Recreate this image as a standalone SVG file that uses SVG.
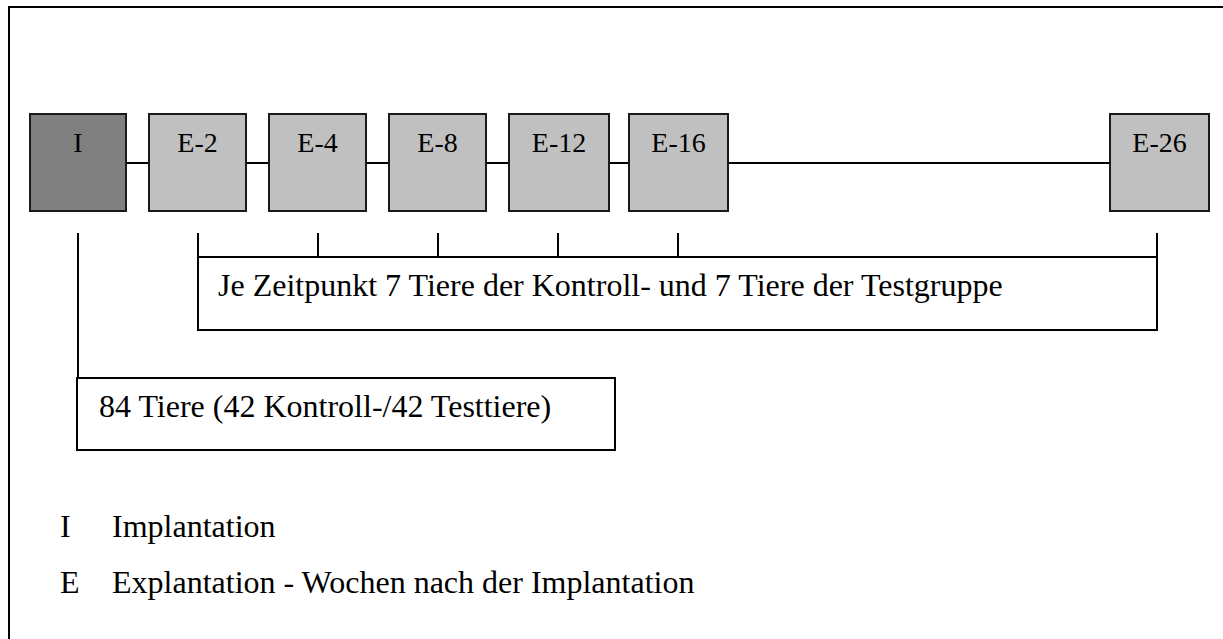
<svg xmlns="http://www.w3.org/2000/svg" width="1223" height="639" viewBox="0 0 1223 639">
<style>
.frame{fill:none;stroke:#000;stroke-width:2}
.box{fill:#c0c0c0;stroke:#1a1a1a;stroke-width:2}
.dark{fill:#808080}
.ln{fill:none;stroke:#000;stroke-width:2}
.lbl{font-family:"Liberation Serif","Times New Roman",serif;font-size:28px;fill:#000;text-anchor:middle}
.txt{font-family:"Liberation Serif","Times New Roman",serif;font-size:32px;fill:#000}
</style>
<rect class="frame" x="9" y="7" width="1220" height="640"/>
<g id="connectors">
<path class="ln" d="M126 163H149M246 163H269M366 163H389M486 163H509M609 163H629M728 163H1110"/>
<path class="ln" d="M78 233V378"/>
<path class="ln" d="M198 233V330H1157V233M198 257H1157M318 233V257M438 233V257M558 233V257M678 233V257"/>
</g>
<g id="node-I"><rect class="box dark" x="30" y="114" width="96" height="97"/><text class="lbl" x="78" y="152">I</text></g>
<g id="node-E2"><rect class="box" x="149" y="114" width="97" height="97"/><text class="lbl" x="197.5" y="152">E-2</text></g>
<g id="node-E4"><rect class="box" x="269" y="114" width="97" height="97"/><text class="lbl" x="317.5" y="152">E-4</text></g>
<g id="node-E8"><rect class="box" x="389" y="114" width="97" height="97"/><text class="lbl" x="437.5" y="152">E-8</text></g>
<g id="node-E12"><rect class="box" x="509" y="114" width="100" height="97"/><text class="lbl" x="559" y="152">E-12</text></g>
<g id="node-E16"><rect class="box" x="629" y="114" width="99" height="97"/><text class="lbl" x="678.5" y="152">E-16</text></g>
<g id="node-E26"><rect class="box" x="1110" y="114" width="99" height="97"/><text class="lbl" x="1159.5" y="152">E-26</text></g>
<g id="group-time"><text class="txt" x="218" y="296">Je Zeitpunkt 7 Tiere der Kontroll- und 7 Tiere der Testgruppe</text></g>
<g id="group-all"><rect class="ln" x="77" y="378" width="538" height="72"/><text class="txt" x="99" y="417">84 Tiere (42 Kontroll-/42 Testtiere)</text></g>
<g id="legend">
<text class="txt" x="60" y="537">I</text><text class="txt" x="112" y="537">Implantation</text>
<text class="txt" x="60" y="593">E</text><text class="txt" x="112" y="593">Explantation - Wochen nach der Implantation</text>
</g>
</svg>
